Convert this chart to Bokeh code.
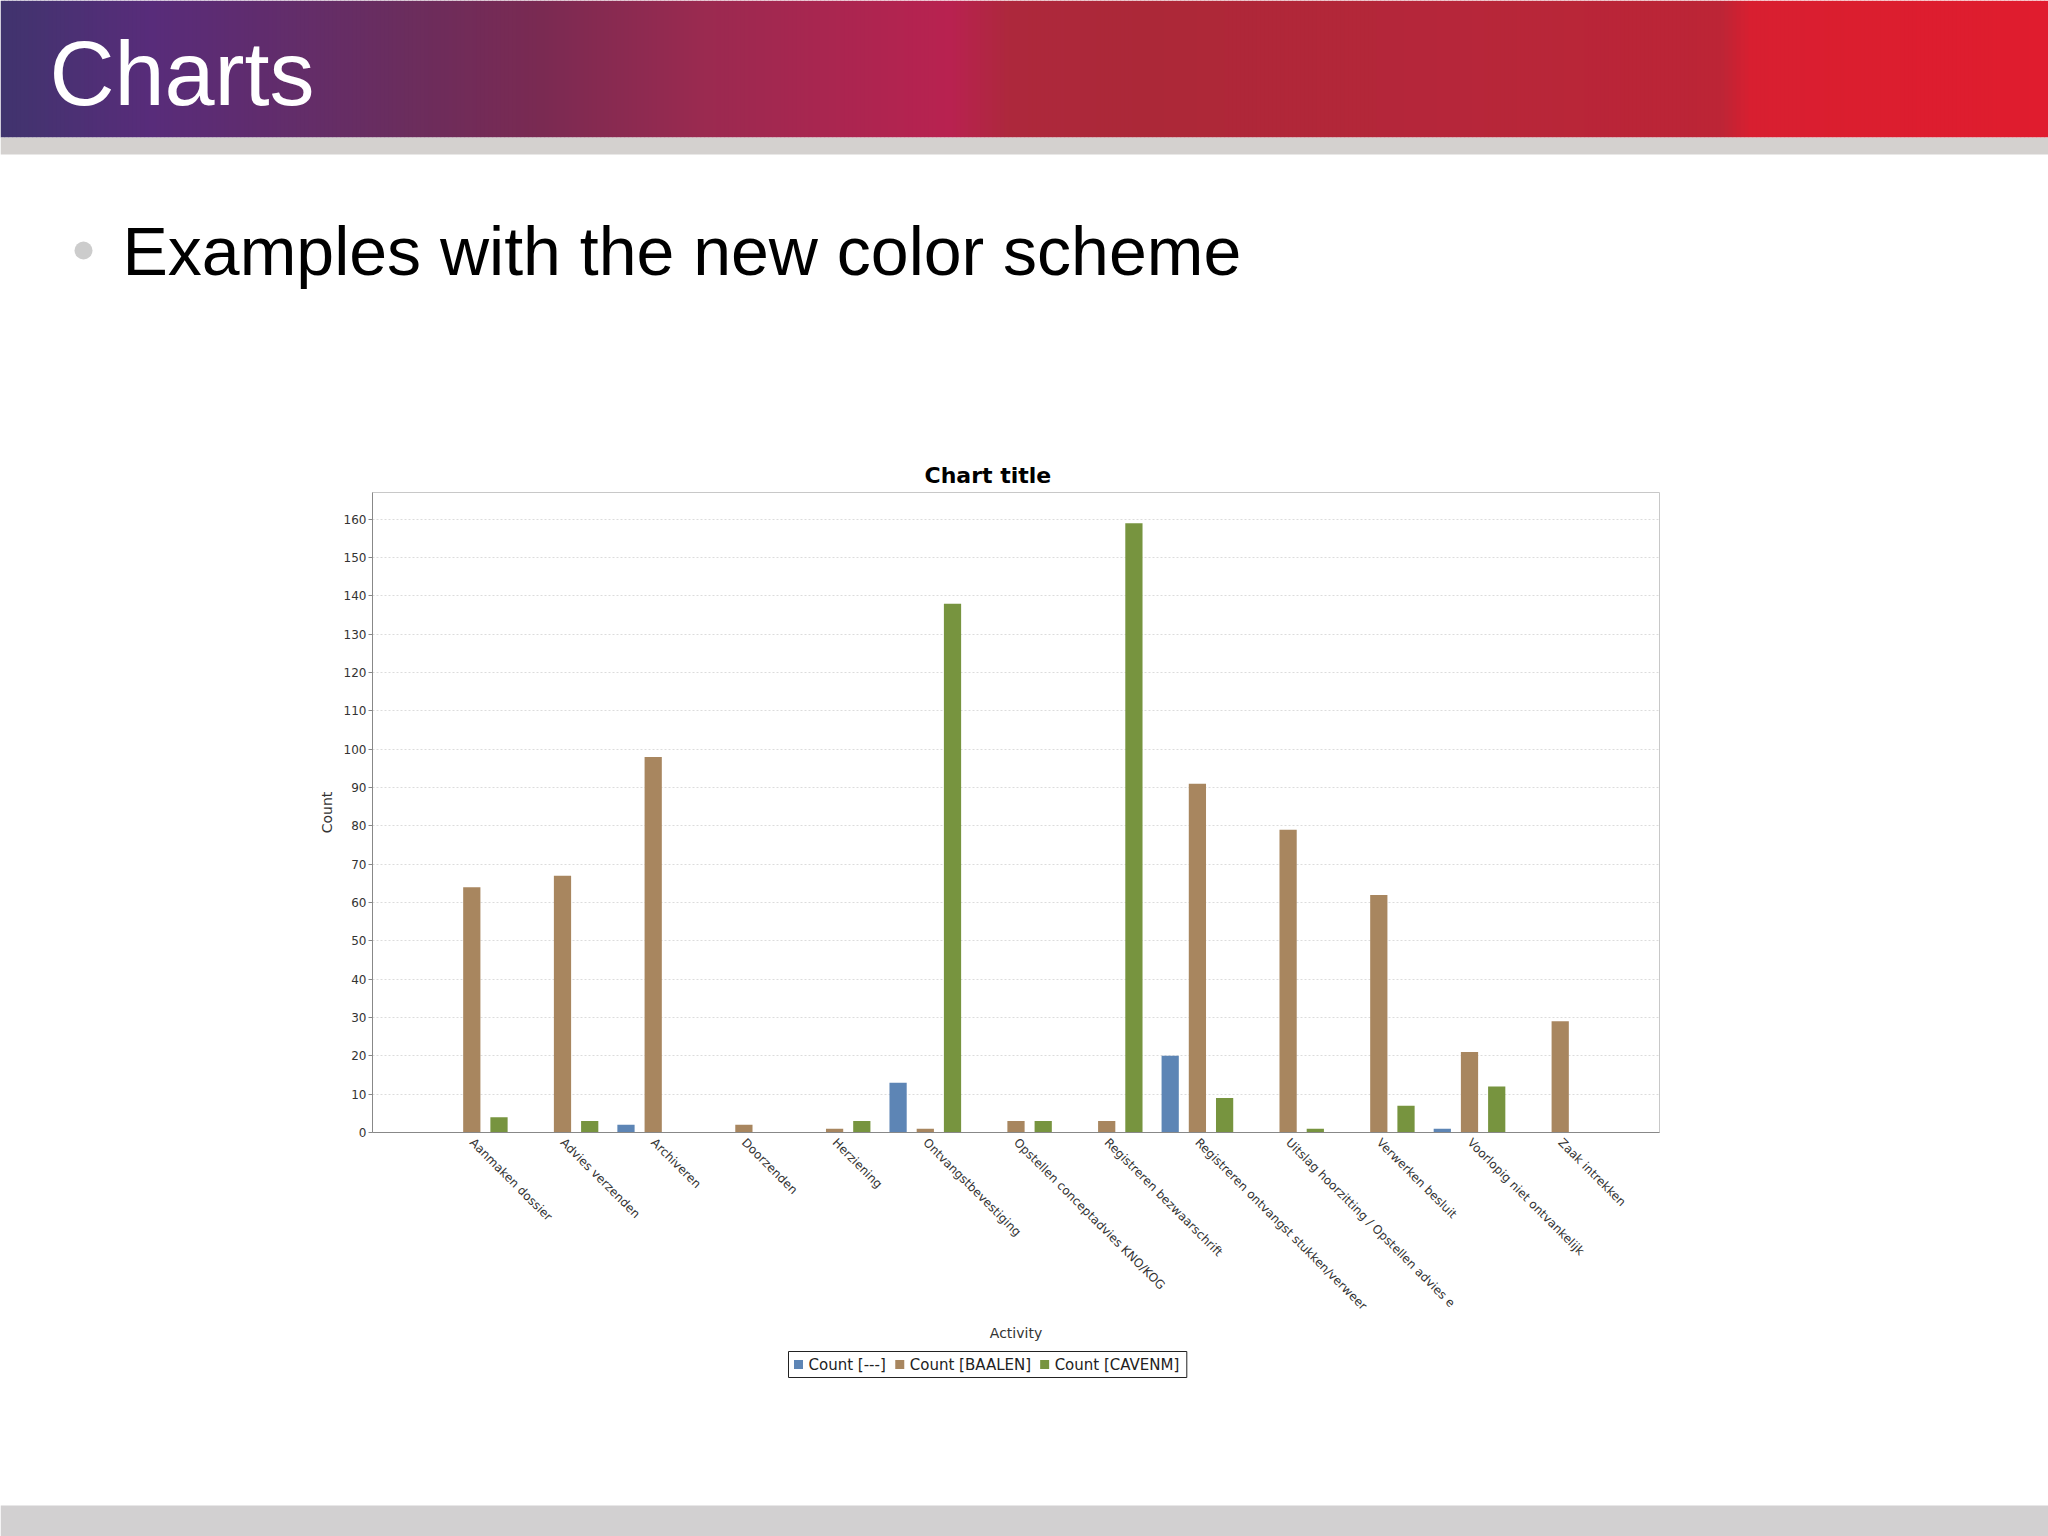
import math
from bokeh.plotting import figure
from bokeh.models import Range1d, FactorRange, ColumnDataSource, SingleIntervalTicker
from bokeh.transform import dodge
from bokeh.layouts import column
from bokeh.core.properties import value
from bokeh.embed import file_html
from bokeh.resources import INLINE

# ---------------- data ----------------
activities = [
    "Aanmaken dossier",
    "Advies verzenden",
    "Archiveren",
    "Doorzenden",
    "Herziening",
    "Ontvangstbevestiging",
    "Opstellen conceptadvies KNO/KOG",
    "Registreren bezwaarschrift",
    "Registreren ontvangst stukken/verweer",
    "Uitslag hoorzitting / Opstellen advies e",
    "Verwerken besluit",
    "Voorlopig niet ontvankelijk",
    "Zaak intrekken",
]
count_none = [0, 0, 2, 0, 0, 13, 0, 0, 20, 0, 0, 1, 0]
count_baalen = [64, 67, 98, 2, 1, 1, 3, 3, 91, 79, 62, 21, 29]
count_cavenm = [4, 3, 0, 0, 3, 138, 3, 159, 9, 1, 7, 12, 0]
series_labels = ["Count [---]", "Count [BAALEN]", "Count [CAVENM]"]
series_colors = ["#5d85b5", "#a8865f", "#77943f"]

slide_title = "Charts"
bullet_text = "Examples with the new color scheme"
chart_title = "Chart title"

W = 2048
H_TOP = 438
FRAME_W, FRAME_H = 1287, 640
MB_LEFT, MB_TOP, MB_BOTTOM = 372, 54, 214
MB_RIGHT = W - MB_LEFT - FRAME_W
H_CHART = MB_TOP + FRAME_H + MB_BOTTOM
H_LEGEND = 40
H_BOTTOM = 1536 - H_TOP - H_CHART - H_LEGEND


def blank(height):
    f = figure(width=W, height=height, x_range=Range1d(0, W), y_range=Range1d(height, 0),
               output_backend="svg", toolbar_location=None, min_border=0, frame_align=False)
    f.axis.visible = False
    f.grid.visible = False
    f.outline_line_color = None
    f.background_fill_color = "white"
    f.border_fill_color = "white"
    return f


# ---------------- top: banner + bullet ----------------
top = blank(H_TOP)

stops = [(0, "#40346e"), (150, "#582c7a"), (400, "#6a2d5e"), (540, "#7a2a52"),
         (700, "#9a2a50"), (950, "#b82250"), (1010, "#ad283c"), (1150, "#ac2838"),
         (1450, "#b6263a"), (1720, "#bc2536"), (1750, "#d81f30"), (2048, "#e01c2e")]


def hex2rgb(h):
    return tuple(int(h[i:i + 2], 16) for i in (1, 3, 5))


def grad(xr):
    for (x0, c0), (x1, c1) in zip(stops[:-1], stops[1:]):
        if x0 <= xr <= x1:
            t = (xr - x0) / (x1 - x0)
            a, b = hex2rgb(c0), hex2rgb(c1)
            return "#%02x%02x%02x" % tuple(int(round(a[k] + (b[k] - a[k]) * t)) for k in range(3))
    return stops[-1][1]


step = 4
lefts = list(range(0, W, step))
rights = [l + step + 0.6 for l in lefts]
cols = [grad(l + step / 2) for l in lefts]
top.quad(left=lefts, right=rights, top=0, bottom=137, fill_color=cols, line_color=None)
top.quad(left=0, right=W, top=137, bottom=154, fill_color="#d4d1cf", line_color=None)

top.text(x=[49], y=[73], text=[slide_title], text_font=value("Liberation Sans"),
         text_font_size="90px", text_color="white", text_baseline="alphabetic",
         text_align="left")
top.scatter(x=[83], y=[250], size=18, fill_color="#cccccc", line_color=None)
top.text(x=[122], y=[250], text=[bullet_text], text_font=value("Liberation Sans"),
         text_font_size="68px", text_color="black", text_baseline="alphabetic",
         text_align="left")

# ---------------- chart ----------------
src = ColumnDataSource(dict(activity=activities, none=count_none,
                            baalen=count_baalen, cavenm=count_cavenm))

p = figure(frame_width=FRAME_W, frame_height=FRAME_H,
           x_range=FactorRange(*activities, range_padding=0.0915),
           y_range=Range1d(0, 167),
           output_backend="svg", toolbar_location=None, frame_align=False,
           min_border_left=MB_LEFT, min_border_right=MB_RIGHT,
           min_border_top=MB_TOP, min_border_bottom=MB_BOTTOM)
p.background_fill_color = "white"
p.border_fill_color = "white"
p.outline_line_color = "#c8c8c8"

p.title.text = chart_title
p.title.align = "left"
p.title.offset = 552
p.title.text_font = "DejaVu Sans"
p.title.text_font_size = "22px"
p.title.text_font_style = "bold"
p.title.text_color = "black"

for off, col, color in zip([-0.3, 0.0, 0.3], ["none", "baalen", "cavenm"], series_colors):
    p.vbar(x=dodge("activity", off, range=p.x_range), top=col, width=0.19, source=src,
           fill_color=color, line_color=None)

p.xgrid.visible = False
p.ygrid.grid_line_color = "#dcdcdc"
p.ygrid.grid_line_dash = "2 2"

p.yaxis.ticker = SingleIntervalTicker(interval=10)
p.yaxis.axis_label = "Count"
for ax in (p.xaxis[0], p.yaxis[0]):
    ax.axis_line_color = "#888888"
    ax.major_label_text_font = "DejaVu Sans"
    ax.major_label_text_font_size = "12px"
    ax.major_label_text_color = "#333333"
    ax.axis_label_text_font = "DejaVu Sans"
    ax.axis_label_text_font_size = "14px"
    ax.axis_label_text_font_style = "normal"
    ax.axis_label_text_color = "#333333"
    ax.minor_tick_line_color = None

p.yaxis.major_tick_out = 4
p.yaxis.major_tick_in = 0
p.yaxis.major_tick_line_color = "#888888"
p.yaxis.major_label_standoff = 2
p.yaxis.axis_label_standoff = 6

p.xaxis.axis_label = "Activity"
p.xaxis.major_tick_line_color = None
p.xaxis.major_tick_out = 0
p.xaxis.major_label_orientation = -math.pi / 4
p.xaxis.major_label_standoff = 8
p.xaxis.axis_label_standoff = 4

# ---------------- legend strip (below the chart), drawn as glyphs ----------------
leg = blank(H_LEGEND)
char_em = {"C": .698, "o": .612, "u": .634, "n": .634, "t": .392, " ": .318, "[": .390,
           "]": .390, "-": .361, "B": .686, "A": .684, "L": .557, "E": .632, "N": .748,
           "V": .684, "M": .863}
FS = 15
box_left, box_top, box_h = 788, 5, 26
cy = box_top + box_h / 2
sq_l, sq_r, lab_x = [], [], []
x = box_left + 5.5
for lab in series_labels:
    sq_l.append(x)
    sq_r.append(x + 9)
    lab_x.append(x + 9 + 5.5)
    x = x + 9 + 5.5 + sum(char_em.get(c, 0.6) for c in lab) * FS + 9.5
box_right = x - 9.5 + 6.5
leg.quad(left=[box_left], right=[box_right], top=[box_top], bottom=[box_top + box_h],
         fill_color="white", line_color="#222222", line_width=1)
leg.quad(left=sq_l, right=sq_r, top=cy - 4.5, bottom=cy + 4.5, fill_color=series_colors,
         line_color=None)
leg.text(x=lab_x, y=[cy] * 3, text=series_labels, text_font=value("DejaVu Sans"),
         text_font_size="15px", text_color="#222222", text_baseline="middle",
         text_align="left")

# ---------------- bottom bar ----------------
bot = blank(H_BOTTOM)
bot.quad(left=0, right=W, top=H_BOTTOM - 31, bottom=H_BOTTOM, fill_color="#d2d0d1", line_color=None)

layout = column(top, p, leg, bot, spacing=0)
open("out.html", "w").write(file_html(layout, INLINE))
